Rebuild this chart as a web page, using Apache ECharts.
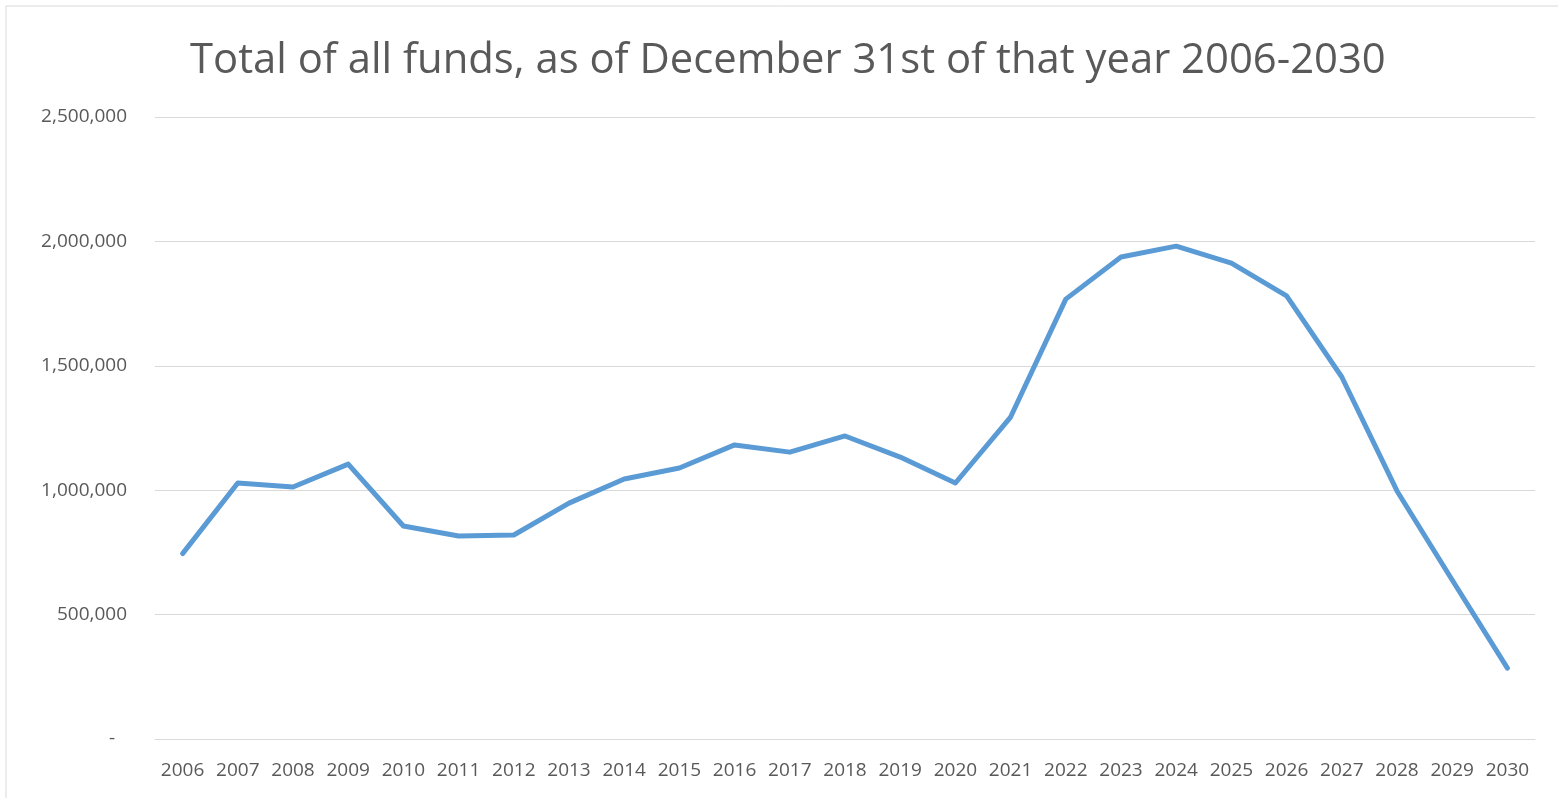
<!DOCTYPE html>
<html>
<head>
<meta charset="utf-8">
<script src="https://cdn.jsdelivr.net/npm/echarts@6/dist/echarts.min.js"></script>
<style>html,body{margin:0;padding:0;background:#fff}#c{width:1558px;height:798px}</style>
</head>
<body>
<div id="c"></div>
<script>
const years = ['2006','2007','2008','2009','2010','2011','2012','2013','2014','2015','2016','2017','2018','2019','2020','2021','2022','2023','2024','2025','2026','2027','2028','2029','2030'];
const totals = [745000,1029000,1013000,1105000,856000,816000,820000,948000,1045000,1089000,1182000,1153000,1218000,1133000,1029000,1294000,1768000,1937000,1981000,1913000,1781000,1455000,997000,639000,285000];
const yTicks = [0,500000,1000000,1500000,2000000,2500000];

const chart = echarts.init(document.getElementById('c'), null, {renderer:'canvas'});
const font = '"Open Sans", "Noto Sans", sans-serif';
chart.setOption({
  animation:false,
  backgroundColor:'#ffffff',
  title:{
    text:'Total of all funds, as of December 31st of that year 2006-2030',
    left:185, top:35,
    textStyle:{fontFamily:font, fontSize:41.8, fontWeight:'normal', color:'#595959'}
  },
  graphic:[{type:'rect', shape:{x:6,y:6,width:1600,height:900}, style:{fill:'none', stroke:'#D9D9D9', lineWidth:1}, silent:true, z:-1}],
  grid:{left:155, right:23, top:117, bottom:59, containLabel:false},
  xAxis:{
    type:'category', data:years, boundaryGap:true,
    axisLine:{show:true, lineStyle:{color:'#D9D9D9', width:1}},
    axisTick:{show:false},
    axisLabel:{fontFamily:font, fontSize:19, color:'#595959', margin:22, interval:0}
  },
  yAxis:{
    type:'value', min:yTicks[0], max:yTicks[yTicks.length-1], interval:yTicks[1]-yTicks[0],
    axisLine:{show:false}, axisTick:{show:false},
    splitLine:{lineStyle:{color:'#D9D9D9', width:1}},
    axisLabel:{
      fontFamily:font, fontSize:19, color:'#595959', margin:28,
      formatter:function(v){ return v===0 ? '{d|-}' : v.toLocaleString('en-US'); },
      rich:{d:{fontFamily:font, fontSize:19, color:'#595959', padding:[0,12,0,0]}}
    }
  },
  series:[{
    type:'line', data:totals, showSymbol:false, symbol:'none',
    lineStyle:{color:'#5B9BD5', width:5, cap:'round', join:'round'},
    itemStyle:{color:'#5B9BD5'}
  }]
});
</script>
</body>
</html>
